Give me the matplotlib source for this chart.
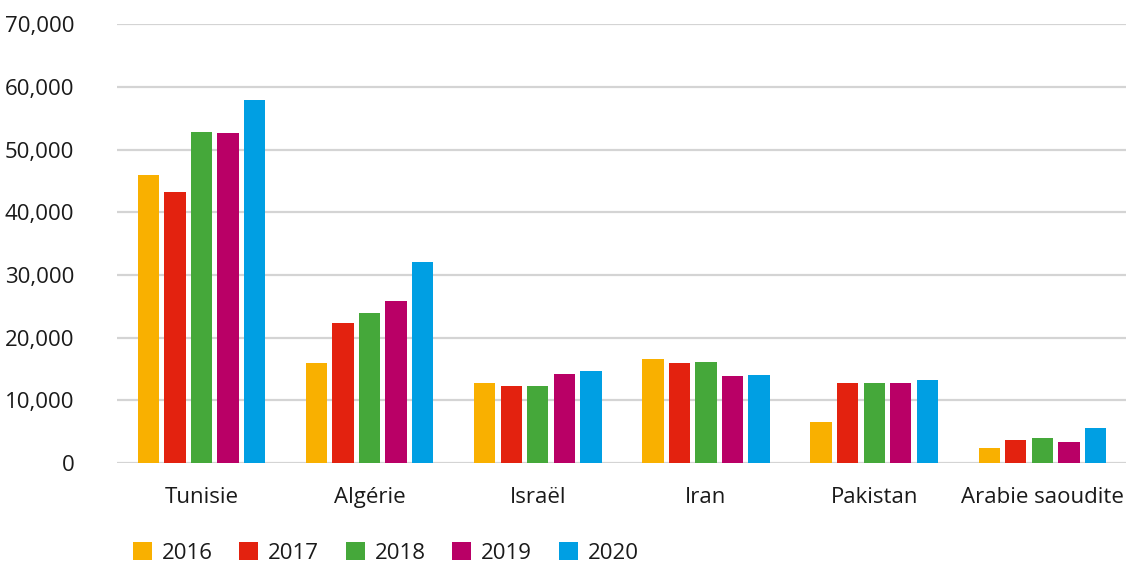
import numpy as np
import matplotlib
matplotlib.use('Agg')
import matplotlib.pyplot as plt
from matplotlib.patches import Patch
from matplotlib.ticker import FuncFormatter

plt.rcParams['font.family'] = ['Open Sans', 'DejaVu Sans']

# Data
pays = ['Tunisie', 'Algérie', 'Israël', 'Iran', 'Pakistan', 'Arabie saoudite']
annees = ['2016', '2017', '2018', '2019', '2020']
v2016 = [45900, 15900, 12700, 16600, 6600, 2400]
v2017 = [43300, 22400, 12300, 15900, 12700, 3700]
v2018 = [52800, 23900, 12300, 16100, 12700, 4000]
v2019 = [52600, 25800, 14200, 13900, 12700, 3300]
v2020 = [57900, 32000, 14700, 14000, 13300, 5600]
series = [v2016, v2017, v2018, v2019, v2020]
couleurs = ['#F9B000', '#E3220F', '#45A83A', '#B90066', '#009FE3']

fig = plt.figure(figsize=(11.39, 5.64), dpi=100)
ax = fig.add_axes([0.103, 0.179, 0.886, 0.778])

x = np.arange(len(pays))
step = 0.158
width = 0.127
for i, (vals, c) in enumerate(zip(series, couleurs)):
    ax.bar(x + (i - 2) * step, vals, width, color=c, zorder=3)

ax.set_xlim(-0.5, len(pays) - 0.5)
ax.set_ylim(0, 70000)
ax.set_yticks(np.arange(0, 70001, 10000))
ax.yaxis.set_major_formatter(FuncFormatter(lambda v, p: '{:,.0f}'.format(v)))
ax.grid(axis='y', color='#d4d4d4', linewidth=1.6, zorder=0)
for s in ax.spines.values():
    s.set_visible(False)
ax.set_xticks(x)
ax.set_xticklabels(pays)
ax.tick_params(axis='both', length=0, labelsize=16, colors='#1a1a1a')
ax.tick_params(axis='y', pad=31)
ax.tick_params(axis='x', pad=17)

handles = [Patch(facecolor=c, label=a) for c, a in zip(couleurs, annees)]
fig.legend(handles=handles, loc='lower left', bbox_to_anchor=(0.099, -0.035), ncol=5,
           frameon=False, fontsize=16, handlelength=0.85, handleheight=0.85,
           handletextpad=0.45, columnspacing=1.2, labelcolor='#1a1a1a')

plt.savefig('out.png', dpi=100)
